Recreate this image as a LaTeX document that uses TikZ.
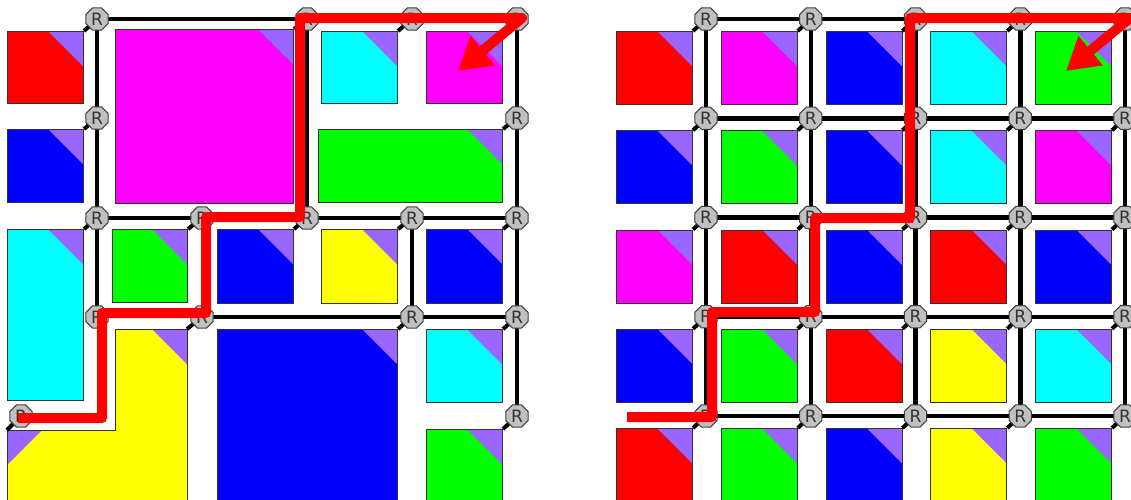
\documentclass[tikz,border=0pt]{standalone}
\usepackage{fontspec}
\setsansfont{DejaVu Sans}
\usetikzlibrary{shapes.geometric,arrows.meta}
\definecolor{purp}{HTML}{9966FF}
\definecolor{rfill}{HTML}{C0C0C0}
\definecolor{rline}{HTML}{404040}
\definecolor{tline}{HTML}{333333}
\definecolor{cRed}{HTML}{FF0000}
\definecolor{cGre}{HTML}{00FF00}
\definecolor{cBlu}{HTML}{0000FF}
\definecolor{cCya}{HTML}{00FFFF}
\definecolor{cMag}{HTML}{FF00FF}
\definecolor{cYel}{HTML}{FFFF00}
\pgfdeclarelayer{bg}\pgfdeclarelayer{fg}\pgfsetlayers{bg,main,fg}
\begin{document}
\begin{tikzpicture}[x=1pt,y=-1pt,
 router/.style={regular polygon, regular polygon sides=8, minimum size=24pt, inner sep=0pt,
   fill=rfill, draw=rline, line width=1pt, font=\sffamily\fontsize{17}{17}\selectfont, text=black!80},
 tile/.style={rectangle, anchor=north west, inner sep=0pt, draw=tline, line width=1pt, fill=#1,
   path picture={\fill[purp] (path picture bounding box.north east) -- ++(-35pt,0pt) -- ++(35pt,-35pt) -- cycle;}},
 gridline/.style={line width=4.5pt, black},
 link/.style={line width=4pt, black},
 route/.style={line width=10pt, cRed, line join=round, -{Triangle[length=32pt,width=36pt]}},
]
\useasboundingbox (0,0) rectangle (1131,499);

% ---------- left network: routers ----------
\node[router] (a11) at (97,19) {R};
\node[router] (a13) at (307,19) {R};
\node[router] (a14) at (412,19) {R};
\node[router] (a15) at (517,19) {R};
\node[router] (a21) at (97,118) {R};
\node[router] (a25) at (517,118) {R};
\node[router] (a31) at (97,218) {R};
\node[router] (a32) at (202,218) {R};
\node[router] (a33) at (307,218) {R};
\node[router] (a34) at (412,218) {R};
\node[router] (a35) at (517,218) {R};
\node[router] (a41) at (97,317) {R};
\node[router] (a42) at (202,317) {R};
\node[router] (a44) at (412,317) {R};
\node[router] (a45) at (517,317) {R};
\node[router] (a50) at (21,416) {R};
\node[router] (a55) at (517,416) {R};

% ---------- right network: routers ----------
\foreach \row [count=\j from 0] in {{cRed,cMag,cBlu,cCya,cGre},{cBlu,cGre,cBlu,cCya,cMag},{cMag,cRed,cBlu,cRed,cBlu},{cBlu,cGre,cRed,cYel,cCya},{cRed,cGre,cBlu,cYel,cGre}} {
  \foreach \c [count=\i from 0] in \row {
    \pgfmathsetmacro\xx{706+104.75*\i}
    \pgfmathsetmacro\yy{19+99.25*\j}
    \node[router] (b\j\i) at (\xx,\yy) {R};
  }
}

\begin{pgfonlayer}{bg}
% ---------- left tiles ----------
\node[tile=cRed, minimum width=76pt, minimum height=72pt] (la1) at (7,31) {};
\node[tile=cMag, minimum width=178pt, minimum height=174pt] (la3) at (115,29) {};
\node[tile=cCya, minimum width=76pt, minimum height=72pt] (la4) at (321,31) {};
\node[tile=cMag, minimum width=76pt, minimum height=72pt] (la5) at (426,31) {};
\node[tile=cBlu, minimum width=76pt, minimum height=73pt] (lb1) at (7,129) {};
\node[tile=cGre, minimum width=184pt, minimum height=73pt] (lb5) at (318,129) {};
\node[tile=cCya, minimum width=76pt, minimum height=171pt] (lc1) at (7,229) {};
\node[tile=cGre, minimum width=75pt, minimum height=73pt] (lc2) at (112,229) {};
\node[tile=cBlu, minimum width=76pt, minimum height=74pt] (lc3) at (217,229) {};
\node[tile=cYel, minimum width=76pt, minimum height=74pt] (lc4) at (321,229) {};
\node[tile=cBlu, minimum width=76pt, minimum height=74pt] (lc5) at (426,229) {};
\node[tile=cBlu, minimum width=180pt, minimum height=180pt] (ld4) at (217,329) {};
\node[tile=cCya, minimum width=76pt, minimum height=73pt] (ld5) at (426,329) {};
\node[tile=cGre, minimum width=76pt, minimum height=80pt] (le5) at (426,429) {};
% L-shaped yellow region
\fill[cYel] (115,329) -- (187,329) -- (187,510) -- (7,510) -- (7,430) -- (115,430) -- cycle;
\fill[purp] (152,329) -- (187,329) -- (187,364) -- cycle;
\fill[purp] (7,430) -- (42,430) -- (7,465) -- cycle;
\draw[tline, line width=1pt] (115,329) -- (187,329) -- (187,510) -- (7,510) -- (7,430) -- (115,430) -- cycle;
\coordinate (lyA) at (187,329);
\coordinate (lyB) at (7,430);

% ---------- right tiles ----------
\foreach \row [count=\j from 0] in {{cRed,cMag,cBlu,cCya,cGre},{cBlu,cGre,cBlu,cCya,cMag},{cMag,cRed,cBlu,cRed,cBlu},{cBlu,cGre,cRed,cYel,cCya},{cRed,cGre,cBlu,cYel,cGre}} {
  \foreach \c [count=\i from 0] in \row {
    \pgfmathsetmacro\xx{706+104.75*\i}
    \pgfmathsetmacro\yy{19+99.25*\j}
    \node[tile=\c, minimum width=76pt, minimum height=73pt] (tb\j\i) at (\xx-90,\yy+12) {};
  }
}
\end{pgfonlayer}

\begin{pgfonlayer}{bg}
% ---------- left links ----------
\draw[gridline] (a11.center) -- (a13.center) -- (a14.center) -- (a15.center);
\draw[gridline] (a11.center) -- (a21.center) -- (a31.center) -- (a41.center);
\draw[gridline] (a13.center) -- (a33.center);
\draw[gridline] (a15.center) -- (a25.center) -- (a35.center) -- (a45.center) -- (a55.center);
\draw[gridline] (a31.center) -- (a32.center) -- (a33.center) -- (a34.center) -- (a35.center);
\draw[gridline] (a34.center) -- (a44.center);
\draw[gridline] (a42.center) -- (a44.center) -- (a45.center);
\draw[link] (a11.center) -- (la1.north east);
\draw[link] (a13.center) -- (la3.north east);
\draw[link] (a14.center) -- (la4.north east);
\draw[link] (a15.center) -- (la5.north east);
\draw[link] (a21.center) -- (lb1.north east);
\draw[link] (a25.center) -- (lb5.north east);
\draw[link] (a31.center) -- (lc1.north east);
\draw[link] (a32.center) -- (lc2.north east);
\draw[link] (a33.center) -- (lc3.north east);
\draw[link] (a34.center) -- (lc4.north east);
\draw[link] (a35.center) -- (lc5.north east);
\draw[link] (a42.center) -- (lyA);
\draw[link] (a44.center) -- (ld4.north east);
\draw[link] (a45.center) -- (ld5.north east);
\draw[link] (a50.center) -- (lyB);
\draw[link] (a55.center) -- (le5.north east);

% ---------- right links ----------
\foreach \j in {0,...,4} {
  \foreach \i [evaluate=\i as \n using int(\i+1)] in {0,...,3} {
    \draw[gridline] (b\j\i.center) -- (b\j\n.center);
    \draw[gridline] (b\i\j.center) -- (b\n\j.center);
  }
  \foreach \i in {0,...,4} {
    \draw[link] (b\j\i.center) -- (tb\j\i.north east);
  }
}
\end{pgfonlayer}

% ---------- routes ----------
\begin{pgfonlayer}{fg}
\draw[route] (18,418) -- (102,418) -- (102,313) -- (206,313) -- (206,217) -- (300,217) -- (300,18) -- (522,18) -- (458,71);
\draw[route] (627,417) -- (712,417) -- (712,312) -- (815,312) -- (815,218) -- (910,218) -- (910,18) -- (1130,18) -- (1066,71);
\end{pgfonlayer}
\end{tikzpicture}
\end{document}
